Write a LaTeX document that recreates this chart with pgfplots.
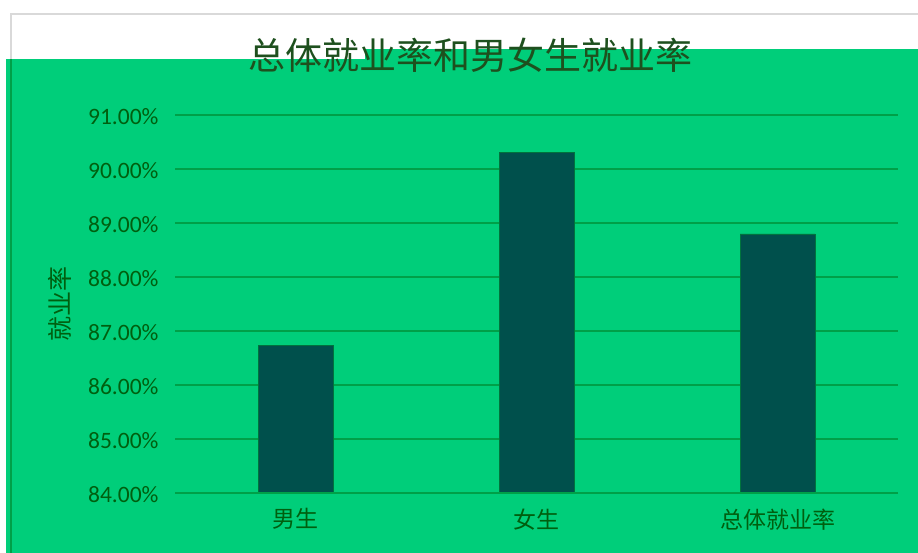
\documentclass[border=0pt]{standalone}
\usepackage{pgfplots}
\pgfplotsset{compat=1.18}
\usepackage{fontspec}
\setmainfont{Carlito}
\newfontfamily\cjk{Noto Sans CJK SC}
\definecolor{bg}{RGB}{0,206,122}
\definecolor{barc}{RGB}{0,80,76}
\definecolor{gridc}{RGB}{0,160,72}
\definecolor{lbl}{RGB}{0,95,15}
\definecolor{ttl}{RGB}{30,80,30}
\begin{document}
\begin{tikzpicture}[x=1pt,y=1pt]
\path[use as bounding box] (0,0) rectangle (918,553);
\fill[white] (0,0) rectangle (918,553);
\draw[gray!30, line width=1.5pt] (11,0) -- (11,539) -- (918,539);
\fill[bg] (6,0) rectangle (365,494);
\fill[bg] (365,0) rectangle (918,504);
\draw[gridc, line width=1.2pt] (11,0) -- (11,494);
\begin{axis}[
  at={(175pt,60pt)}, anchor=south west,
  scale only axis, width=723pt, height=378pt,
  xmin=-0.5, xmax=2.5, ymin=84, ymax=91,
  axis line style={draw=none},
  ybar, bar width=75pt,
  ytick={84,85,86,87,88,89,90,91},
  yticklabel={\pgfmathprintnumber[fixed,fixed zerofill,precision=2]{\tick}\%},
  /pgf/number format/assume math mode=true,
  yticklabel style={font=\fontsize{23.5}{23.5}\selectfont, color=lbl, anchor=east, xshift=-13pt, yshift=-1.5pt},
  xtick=data,
  xticklabels={{\cjk 男生},{\cjk 女生},{\cjk 总体就业率}},
  xticklabel style={font=\fontsize{23}{23}\selectfont, color=lbl, yshift=-12pt},
  xmajorgrids=false, ymajorgrids=true,
  major grid style={draw=gridc, line width=1.2pt},
  major tick length=0pt,
  tick style={draw=none},
  clip=false,
]
\addplot[fill=barc, draw=barc!80!green] coordinates {(0,86.74) (1,90.31) (2,88.80)};
\draw[gridc, line width=1.2pt] (axis cs:-0.5,84) -- (axis cs:2.5,84);
\end{axis}
\node[font=\cjk\fontsize{37}{37}\selectfont, color=ttl] at (470,498) {总体就业率和男女生就业率};
\node[font=\cjk\fontsize{25}{25}\selectfont, color=lbl, rotate=90] at (60,249) {就业率};
\end{tikzpicture}
\end{document}
